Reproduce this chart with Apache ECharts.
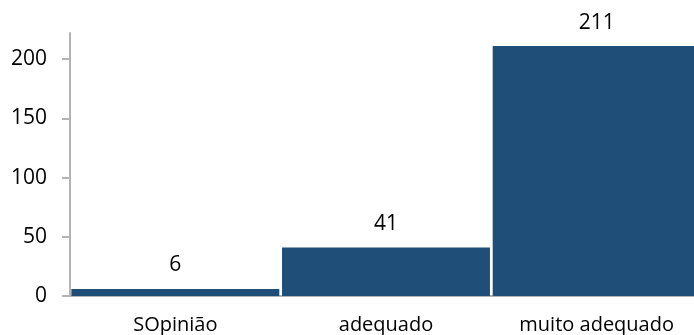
<!DOCTYPE html>
<html>
<head>
<meta charset="utf-8">
<script src="https://cdn.jsdelivr.net/npm/echarts@6/dist/echarts.min.js"></script>
<style>
  html, body { margin: 0; padding: 0; background: #fff; }
  #main { width: 694px; height: 335px; }
</style>
</head>
<body>
<div id="main"></div>
<script>
let categories = ['SOpinião', 'adequado', 'muito adequado']
let values = [6, 41, 211]
let yTicks = [0, 50, 100, 150, 200]

let axisColor = '#b3b3b3'
let barColor = '#1f4e79'
let font = 'Open Sans'

let chart = echarts.init(document.getElementById('main'))
let option = {
  animation: false,
  grid: {
    left: 70,
    width: 632,
    top: 33,
    bottom: 39,
    outerBoundsMode: 'none'
  },
  xAxis: {
    type: 'category',
    data: categories,
    axisLine: { lineStyle: { color: axisColor, width: 2 } },
    axisTick: { show: false },
    axisLabel: {
      color: '#000',
      fontFamily: font,
      fontSize: 20,
      margin: 19
    }
  },
  yAxis: {
    type: 'value',
    min: 0,
    max: 222,
    splitLine: { show: false },
    axisLine: { show: true, lineStyle: { color: axisColor, width: 2 } },
    axisTick: {
      show: true,
      length: 8,
      customValues: yTicks,
      lineStyle: { color: axisColor, width: 2 }
    },
    axisLabel: {
      customValues: yTicks,
      color: '#000',
      fontFamily: font,
      fontSize: 21,
      margin: 23
    }
  },
  series: [{
    type: 'bar',
    data: values,
    barCategoryGap: '1.3%',
    itemStyle: { color: barColor },
    label: {
      show: true,
      position: 'top',
      distance: 13,
      color: '#000',
      fontFamily: font,
      fontSize: 21
    }
  }]
}
chart.setOption(option)
</script>
</body>
</html>
